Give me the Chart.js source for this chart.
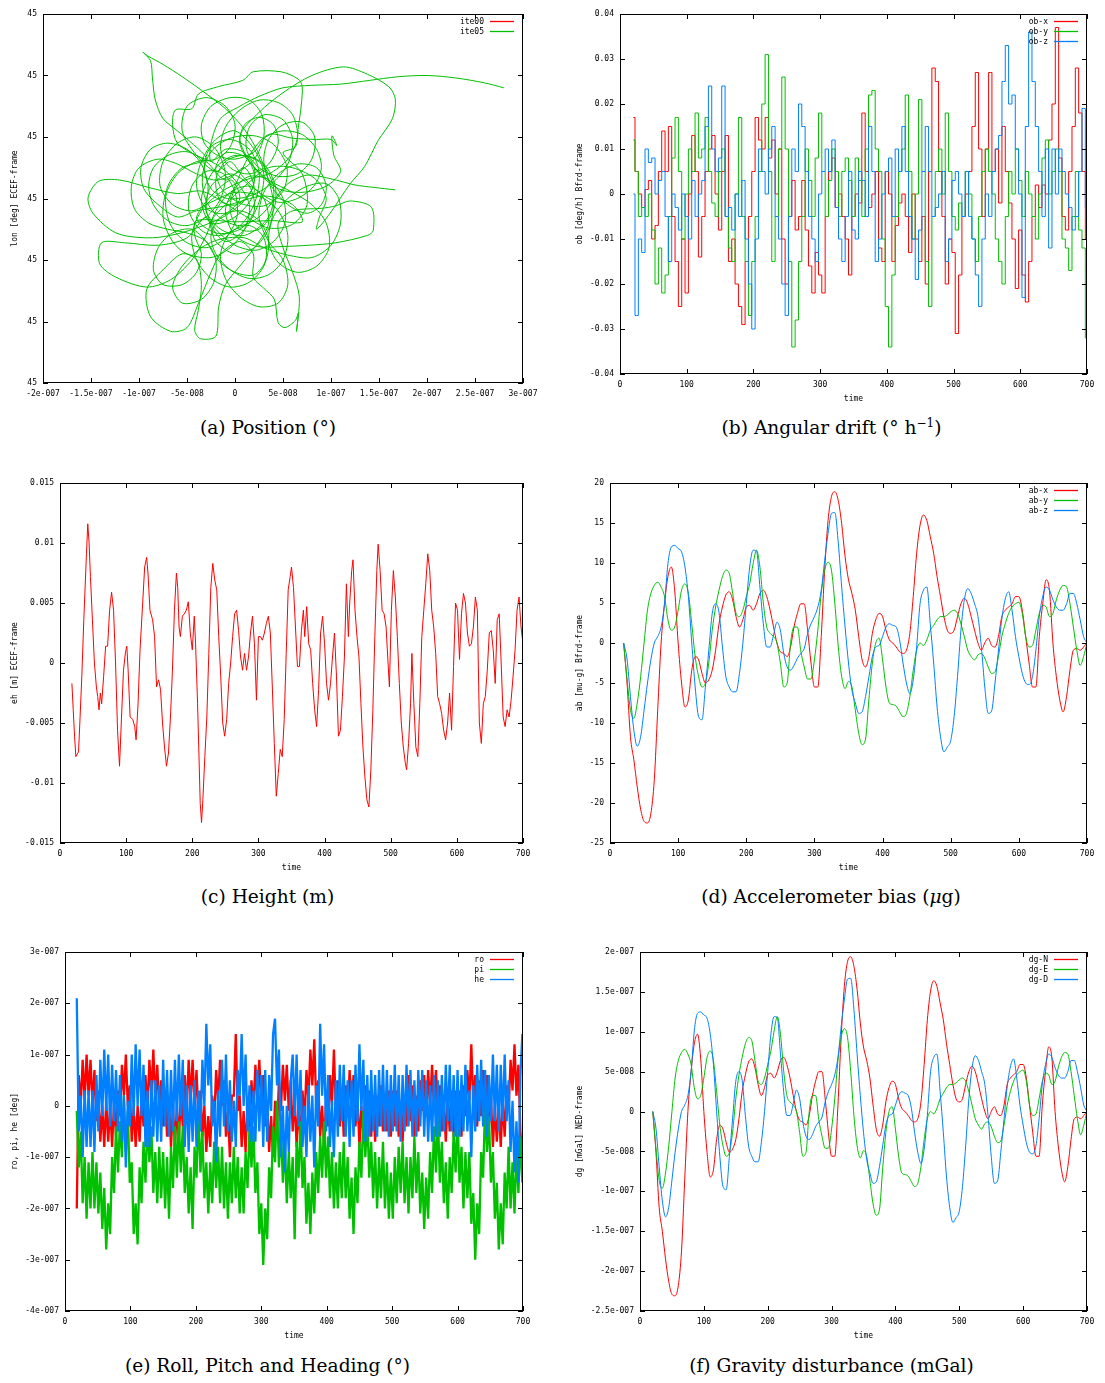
<!DOCTYPE html>
<html><head><meta charset="utf-8">
<script src="https://cdn.jsdelivr.net/npm/chart.js@4"></script>
<style>
body{margin:0;background:#fff;width:1105px;height:1383px;position:relative;overflow:hidden}
canvas{position:absolute}
.cap{position:absolute;text-align:center;font-family:'DejaVu Serif',serif;font-size:18.6px;line-height:24px;color:#000;white-space:nowrap}
.cap sup{font-size:12px;line-height:0;vertical-align:0.55em}
</style></head><body>
<canvas id="ca" width="533" height="404" style="left:5px;top:4px"></canvas>
<canvas id="cb" width="532" height="405" style="left:570px;top:4px"></canvas>
<canvas id="cc" width="533" height="405" style="left:5px;top:473px"></canvas>
<canvas id="cd" width="532" height="405" style="left:570px;top:473px"></canvas>
<canvas id="ce" width="533" height="404" style="left:5px;top:942px"></canvas>
<canvas id="cf" width="532" height="404" style="left:570px;top:942px"></canvas>
<div class="cap" style="left:0;width:536px;top:416px">(a) Position (°)</div>
<div class="cap" style="left:570px;width:523px;top:416px">(b) Angular drift (° h<sup>−1</sup>)</div>
<div class="cap" style="left:0;width:535px;top:885px">(c) Height (m)</div>
<div class="cap" style="left:570px;width:522px;top:885px">(d) Accelerometer bias (<i>μ</i>g)</div>
<div class="cap" style="left:0;width:535px;top:1354px">(e) Roll, Pitch and Heading (°)</div>
<div class="cap" style="left:570px;width:523px;top:1354px">(f) Gravity disturbance (mGal)</div>
<script>
// ---------- tick labels ----------
const xLabelsA = ['-2e-007','-1.5e-007','-1e-007','-5e-008','0','5e-008','1e-007','1.5e-007','2e-007','2.5e-007','3e-007'];
const yLabelsA = ['45','45','45','45','45','45','45'];
const timeLabels = ['0','100','200','300','400','500','600','700'];
const yLabelsB = ['-0.04','-0.03','-0.02','-0.01','0','0.01','0.02','0.03','0.04'];
const yLabelsC = ['-0.015','-0.01','-0.005','0','0.005','0.01','0.015'];
const yLabelsD = ['-25','-20','-15','-10','-5','0','5','10','15','20'];
const yLabelsE = ['-4e-007','-3e-007','-2e-007','-1e-007','0','1e-007','2e-007','3e-007'];
const yLabelsF = ['-2.5e-007','-2e-007','-1.5e-007','-1e-007','-5e-008','0','5e-008','1e-007','1.5e-007','2e-007'];

// ---------- (a) position trajectory [lon offset 1e-8, lat offset 1e-8] ----------
const ite00 = [];
const ite05 = [
[16.7,0.7],[14.5,0.9],[12.5,1.1],[10,1.6],[7.5,1.9],[5.5,1.2],[4,-0.2],[2.5,-1.5],[0.5,-2.2],[-1.5,-1.6],
[-3,-0.2],[-3.4,1.8],[-2.5,3.8],[-0.5,4.9],[2,5.1],[4,4.4],[5.4,2.6],[5,0.6],[3,-0.6],[0.6,-0.4],
[-1.4,0.8],[-2,2.5],[-1,3.7],[1,3.4],[2,2],[1.5,0.3],[-1,-1.4],[-4,-2.4],[-6.7,-3.0],[-9.2,-3.2],
[-12.4,-2.8],[-14.8,-1.2],[-15.3,0.1],[-14.2,1.4],[-12,1.5],[-9,0.9],[-6,0.4],[-3.5,0.6],[-1,-0.4],[1,-1.4],
[3.5,-2.4],[6,-2.1],[7.5,-0.5],[7,2],[5,3.7],[6.3,4.2],[6.6,5.8],[6.9,7.6],[7,9.1],[6.6,9.7],
[4.8,10.3],[1.9,10.3],[0.8,9.6],[-1.7,9.1],[-3.8,8.5],[-4.5,7.3],[-6.2,7.2],[-6.5,6],[-6,4.5],[-4,3.5],
[-2,2.8],[0,1.5],[1.5,-0.5],[1,-2.5],[-0.5,-4],[-2.5,-4.8],[-5,-4.5],[-6.5,-3.5],[-7.5,-1.5],[-7,1],
[-5.5,2.5],[-3,3.2],[-4.5,4.5],[-6,5.5],[-7.5,6.5],[-8.3,8],[-8.6,9.8],[-8.8,11.2],[-9.6,11.9],[-9.1,11.6],
[-7.5,10.9],[-5.5,9.9],[-3.5,8.8],[-1,7.3],[1,5.6],[2.5,3.6],[3.5,1.5],[4,-0.5],[3.5,-2.5],[2,-4],
[0,-4.5],[-2,-3.5],[-3,-1.5],[-5,-3.2],[-8,-3.8],[-11.5,-3.6],[-13.9,-3.6],[-14.1,-5.3],[-12.4,-6.4],[-9.2,-7.2],
[-6.7,-6.6],[-4.5,-5],[-3,-3],[-2,-1],[-0.5,0.5],[1.5,1],[3,0],[3.5,-2],[2.5,-3.5],[0.5,-5.5],
[-1,-7],[-1.7,-8.8],[-2,-11.2],[-3.6,-11.4],[-4.2,-10.7],[-3.8,-9],[-3.5,-7],[-4,-5],[-5.5,-4.5],[-7.5,-5.8],
[-9.2,-7.4],[-8.8,-9.6],[-6.7,-10.8],[-5,-10.5],[-3.8,-8.5],[-2.5,-6],[-1.5,-4.5],[0.5,-3.5],[1.9,-4.5],[1.9,-6.4],
[3,-7.3],[4.1,-8.2],[4.5,-10.1],[5.2,-10.5],[6.3,-9.9],[6.6,-9.3],[6.4,-10.8],[6.7,-8],[6,-6],[5,-4],
[4.5,-2],[6,-1],[9,-0.8],[10.5,-0.6],[12,-0.2],[14.2,-0.7],[14.4,-2.6],[13.8,-3.0],[10.5,-3.6],[7.7,-3.8],
[5,-3.9],[2.3,-3.9],[0,-3],[-1,-1],[0,1],[1.5,3.5],[3.5,5.2],[6,4.9],[8.5,4.8],[10,4.8],
[10.6,4.3],[10.1,5.1],[10.3,3.5],[11,2.2],[9.5,1],[7,0.5],[4.5,0.8],[2,2.5],[0.5,5],[2.5,7],
[5,8.6],[8,10],[11.3,10.7],[13.8,10.1],[16,9.1],[16.7,8.1],[16.4,6.5],[14.9,4.7],[13.5,2.6],[12,1.2],
[9.9,-1.2],[8.5,-2.5],[8.8,-1.5],[9.5,0],[8.5,1.5],[6,2.5],[3.5,2.5],[1,1],[-1,-0.5],[-2.5,-2],
[-1,-3.5],[1,-2.5],[2.5,-0.3],[3,2],[2,4],[0,5.5],[-2,4.8],[-3.5,3],[-4,1],[-3,-0.8],
[-1,-1.2],[0.5,0],[-0.5,1.5],[-4,-1.5],[-2,-2.8],[0.5,-2.5],[2,-1],[1.5,1],[-0.5,2],[-2.5,1],
[-3,-1],[-1.5,-2.5],[1,-3],[3.5,-1.5],[4,1],[2.5,3],[0,3.5],[-2,2.5],[-3.5,0],[-2.5,-2],
[0,-1.5],[2,0.5],[1,2.5],[-1,1.5],
[-3,3],[-5,3.8],[-7,3.5],[-8.5,2.5],[-9,1],[-8.5,-0.5],[-7,-1.8],[-5,-2.2],[-3,-1.5],[-1.5,0],
[-1,2],[-2,4],[-4,5],[-6,4.5],[-7.5,3],[-7.8,1],[-6.5,-0.5],[-4.5,-1],[-2.5,-0.3],[0,0.5],
[2.5,0.2],[4.5,-1],[5.5,-3],[5,-5],[3.5,-6.2],[1.5,-6.5],[-0.5,-5.8],[-2,-4.5],[-2.5,-3],[-1.5,-1.5],
[0.5,-1],[2.5,-1.8],[3.5,-3.5],[3,-5.5],[1.5,-6.8],[-0.5,-7.2],[-2.5,-6.5],[-4,-5],[-4.5,-3],[-3.5,-1],
[-1.5,0.5],[1,1.5],[3.5,2],[5.5,3.2],[6.5,5],[6,6.8],[4.5,7.8],[2.5,8],[0.5,7.2],[-1,5.8],
[-1.5,4],[-0.5,2.5],[1.5,2],[3.5,2.8],[4.5,4.5],[4,6],[2.5,6.6],[1,6],[0.5,4.5],[1.5,3],
[3.5,1.5],[6,0.5],[8,-0.5],[9.5,-2],[9.8,-4],[8.5,-5.5],[6.5,-6],[4.5,-5.2],[3.5,-3.5],[4,-1.5],
[5.5,0],[7.5,1],[9.5,1.2],[10.8,0],[11,-2],[10,-3.8],[8,-4.8],[5.5,-4.6],[3,-4],[1,-3.2],
[-1.5,-3.3],[-3.5,-4],[-5.5,-5.5],[-6.5,-7.2],[-5.5,-8.5],[-3.5,-8.2],[-2.2,-6.8],[-2,-5],[-3,-3.5],[-5,-2.8],
[-7,-2.5],[-9,-2],[-10.5,-0.8],[-10.8,1],[-10,2.5],[-8,3.2],[-6,2.8],[-4,2],[-2,1.5],[0,2],
[2,3.2],[3,5],[2.8,6.8],[1.5,8],[-0.5,8.2],[-2.5,7.5],[-3.5,6],[-3.2,4.5],[-1.8,3.5],[0,3.2],
[2,3.8],[3.2,5],[5,5.5],[7,5.2],[8.5,4],[9,2.5],[8.2,1],[6.5,0],[4.5,-0.3],[2.5,0.5],
[0.8,1.8],[-0.5,3],[-2,2.2],
[-4,3.5],[-5.5,5.5],[-5,7.5],[-3,8.2],[-1,7.5],[0,6],[-0.5,4.2],[-2,3.2],[-4,3],[-6,2],
[-7.2,0.2],[-6.8,-2],[-5.2,-3.5],[-3,-4],[-1,-3.2],[0.2,-1.5],[0,0.5],[-1.2,2],[-3,2.2],[-4.5,1],
[-4.8,-1],[-3.5,-2.6],[-1.5,-3],[0.8,-2],[2.2,0],[2.5,2.2],[1.5,4],[-0.5,4.8],[-2.5,4.2],[-3.2,2.5],
[-2.5,0.8],[-0.8,0],[1.5,0.2],[3.8,1.2],[5.5,2.8],[6,4.8],[5,6.4],[3,6.8],[1.5,5.8],[1.2,4],
[2.5,2.5],[4.5,1.8],[6.5,2],[8,3.2],[8.3,5],[7,6.2],[5,6],[3.5,4.8],[3,3],[3.8,1],
[5.5,-0.5],[7.5,-1.2],[9,-0.5],[9.5,1],[8.5,2.5],[6.5,2.8],[4.5,2],[3,0.5],[2.5,-1.5],[3.5,-3.5],
[5,-5],[5.5,-7],[4.5,-8.5],[2.5,-8.8],[0.5,-8],[-1,-6.5],[-1.5,-4.5],[-0.5,-2.8],[1.5,-2.2],[3,-3.2],
[3.2,-5],[2,-6.2],[0,-6],[-1.8,-5],[-3,-3.5],[-4.5,-2.5],[-6.5,-2.8],[-8,-4],[-8.5,-5.8],[-7.5,-7],
[-5.5,-7],[-4,-6],[-3.5,-4.5],[-4.2,-3],[-4,-1.8],[0,-1.9],[4,-1.8],[7,-1.9],[6,-0.5],[3,0.2],
[-1,-0.6],[-4,-1],[-6,-1.5],[-8,-0.5],[-9.5,0.8],[-9.8,2.5],[-8.8,4],[-7,4.5],[-5,4],[-3.5,2.8],
[-2.8,1],[-3,-1],[-2,-2.5],[0,-3.8],[2.2,-4.2],[4,-3.5],[5.2,-2],[5,0],[3.5,1.5],[1.5,1.8],
[0,0.8],[-0.5,-1],[0.5,-2.5],[2.5,-2.5],[4,-1],[4.2,1],[3,2.8],[1,3.5],[-1,3],[-2,1.5],
[-1.5,-0.2],[0.2,-0.5],[1.8,0.8],[2,2.5],[0.8,3.8],[-1,4],[-2.5,3],
[-2.5,4.5],[-1.5,6.5],[0.5,7.5],[2.5,8.3],[5,9],
[8,9.2],[11,9.3],[14,9.6],[17,9.9],[20,10],[23,9.8],[26,9.4],[28,9.0]
];

// ---------- (b) angular drift, 1e-3 deg/h, t = 20..700 step 5 ----------
const tB0 = 20, tBstep = 5;
const obX = [17,5,0,-3,1,3,-10,-7,5,14, 5,15,-5,-15,-25,-10,-22,0,13,5, -14,-5,5,10,13,0,-8,5,13,-15,
 -10,-20,-25,-29,-15,-5,5,17,12,10, 17,8,12,0,10,-10,-20,-5,3,-8, -5,3,-8,-16,-22,-13,-18,-22,-5,5,
 8,-3,0,-5,-10,-18,-5,0,-2,18, 5,-3,0,5,-12,-15,5,0,-15,-7, -2,0,-5,-13,0,-10,-15,-5,-20,5,
 28,25,5,-5,-20,-10,-13,-31,-18,-5, 0,5,15,27,10,-5,10,27,5,10, -2,15,5,-2,-10,-21,-8,-18,-24,-15,
 -5,2,-3,2,0,12,20,37,8,-5, -8,5,15,28,18,5,-10];
const obY = [12,5,-5,-3,-5,0,-8,-20,-12,-22, -18,-5,8,17,5,-10,0,10,5,18, 8,10,17,5,-2,-5,5,10,-5,-12,
 -15,0,17,-5,-15,-27,-15,-5,5,20, 31,5,-15,-5,10,26,10,-15,-34,-28, -15,-5,10,3,-5,8,18,5,-5,3,
 10,5,-5,5,8,3,-5,8,3,-5, 10,22,23,10,5,-10,-25,-34,-18,-5, 5,10,22,5,-10,0,21,5,-15,-25,
 -5,5,10,0,18,5,-5,-8,-2,-5, 5,0,-10,-15,-5,5,10,5,0,-10, -15,-20,-5,5,0,10,3,-5,5,0,
 -5,-10,0,8,12,0,5,10,5,-10, -12,-17,-5,5,-8,-12,-32];
const obZ = [0,-27,-10,-13,10,7,8,0,3,5, -5,-15,0,-3,-8,0,-5,-10,3,-5, 0,3,15,24,10,5,8,24,-5,-3,
 -8,0,-5,3,-10,-20,-30,-10,10,5, 0,10,15,-5,-10,-20,-27,-5,10,5, 20,15,5,-5,-10,-15,0,5,10,5,
 12,-3,-10,-15,-5,5,-8,-10,5,3, -5,15,5,-15,-10,0,5,8,-5,10, 5,15,5,-5,-10,-19,-8,5,15,5,
 -5,-3,0,5,-15,-10,3,5,0,-5, 5,-5,-10,-18,-25,-10,0,-5,5,10, 13,25,33,20,22,10,0,-23,15,36,
 25,15,5,-5,10,-12,10,0,10,5, 0,-3,-8,-5,5,19,-3];

// ---------- (c) height error [time, 1e-3 m] ----------
const ehC = [[18,-1.7],[20,-3.9],[22,-6.1],[24,-7.8],[28,-7.4],[30,-5.0],[33,-1.1],[36,3.6],[40,9.1],[42,11.6],[44,10.0],[46,7.2],[49,3.6],[52,0],[55,-2.0],[57,-2.8],[59,-3.9],[61,-2.5],[63,-3.4],[66,-1.1],[69,1.4],[72,1.4],[75,4.4],[78,5.9],[81,4.4],[84,0],[87,-5.6],[90,-8.6],[93,-4.5],[96,-0.6],[99,0.9],[101,1.4],[103,-0.6],[106,-4.5],[110,-4.7],[113,-5.3],[115,-6.4],[118,-3.4],[121,1.1],[125,5.0],[128,8.0],[131,8.8],[133,7.5],[136,4.4],[140,3.6],[143,2.2],[146,-2.0],[149,-1.4],[152,-2.2],[155,-5.0],[158,-7.0],[161,-8.6],[164,-7.5],[167,-4.5],[170,-0.6],[173,4.4],[176,7.5],[178,6.3],[180,3.0],[182,2.2],[185,3.9],[188,4.1],[191,4.4],[194,5.1],[197,2.5],[200,1.1],[203,3.9],[205,1.6],[208,-3.4],[210,-7.5],[212,-11.7],[214,-13.3],[216,-11.4],[219,-7.8],[222,-4.5],[225,0.8],[228,6.3],[231,8.3],[234,6.9],[237,6.1],[240,2.2],[243,-1.1],[246,-5.0],[249,-6.1],[252,-4.7],[255,-1.7],[258,0],[261,2.2],[264,4.1],[267,4.4],[270,2.7],[273,0.5],[276,-0.6],[279,0.8],[282,-0.6],[285,0.5],[288,2.5],[291,3.9],[294,1.6],[297,-3.1],[300,2.2],[303,2.2],[306,1.9],[309,2.5],[312,3.3],[315,3.9],[318,2.5],[321,-2.0],[324,-6.7],[327,-11.1],[330,-9.2],[333,-7.2],[336,-7.8],[339,-4.7],[342,0.8],[345,6.1],[348,7.2],[350,8.0],[353,6.3],[356,3.0],[359,-0.3],[362,-0.3],[365,2.7],[368,4.4],[370,2.2],[373,4.7],[376,1.6],[379,1.1],[382,-1.7],[385,-3.9],[388,-5.3],[391,-2.2],[394,2.5],[397,3.9],[400,1.6],[403,-1.7],[406,-3.1],[409,-1.7],[412,0.5],[415,2.5],[418,-1.1],[421,-6.1],[424,-5.6],[427,-2.8],[430,0.5],[433,6.6],[436,2.2],[438,5.0],[441,7.7],[443,8.6],[446,4.4],[449,2.2],[452,0.5],[455,-3.4],[458,-7.0],[461,-9.5],[464,-11.4],[467,-12.0],[470,-8.9],[473,-3.9],[476,2.2],[479,7.7],[481,9.9],[484,7.7],[487,4.4],[490,4.1],[493,3.0],[496,0],[498,-2.0],[501,4.4],[504,7.7],[507,5.5],[510,2.2],[513,-1.7],[516,-5.0],[519,-7.0],[522,-8.3],[524,-8.9],[527,-6.7],[530,-3.4],[532,0.8],[535,-3.4],[538,-7.0],[541,-7.8],[544,-3.4],[547,2.2],[550,4.4],[553,6.6],[556,9.1],[559,7.7],[562,4.4],[565,3.0],[568,0.8],[571,-2.8],[574,-3.4],[577,-4.2],[580,-5.6],[583,-6.4],[586,-5.0],[589,-2.5],[592,-5.6],[595,-0.3],[598,5.0],[601,4.4],[604,0.3],[607,4.1],[610,5.8],[613,5.0],[616,2.5],[619,1.4],[622,1.6],[625,3.0],[628,5.5],[631,4.4],[634,-5.0],[637,-6.7],[640,-3.4],[643,-2.8],[646,-0.6],[649,2.5],[652,2.7],[655,1.1],[658,-1.7],[661,3.6],[664,4.1],[667,0],[670,-4.5],[673,-5.3],[676,-3.9],[679,-4.5],[682,-3.1],[685,-1.1],[688,1.1],[691,4.4],[694,5.5],[697,3.0],[700,1.6]];

// ---------- (d) accelerometer bias, mu-g, t = 20..700 step 5 ----------
const tD0 = 20, tDstep = 5;
const abX = [0,-5,-11.7,-14.6,-18,-20.8,-22.3,-22.5,-21.3,-17.1, -8.4,0,4.9,8.3,9.5,6.5,0,-5,-8,-7.1,
 -3.4,-1.7,-2.1,-3.8,-5,-4.6,-3.4,-0.9,2.4,4.5, 6,6.4,5.4,3.3,2,2.9,4.5,4.7,4.1,4.9,
 6.2,6.6,5.8,4.1,2,0,-1.1,-1.3,-1.7,-0.5, 2,3.7,4.9,4.9,1.6,-2.5,-5.5,-5.5,0.8,9.1,
 15.3,18.3,18.9,17.8,14.9,10.8,7.9,6.2,4.1,0.8, -2.1,-3,-1.7,1.2,2.9,3.7,3.3,1.6,0.4,0,
 -0.5,-1.1,-1.3,-0.9,1.2,5.8,11.2,14.7,16,15.3, 13.3,11.2,8.3,5.8,3.3,1.6,1.2,1.6,3.3,4.9,
 5.6,4.9,3.3,1.6,0,-0.9,0,0.6,-0.3,-0.5, 0.8,3.3,4.1,4.5,4.9,5.8,5.8,4.1,0.8,-2.5,
 -5.5,-5.5,0.8,4.9,7.9,6.5,0,-4.2,-7.1,-8.6, -6.7,-3.4,-0.9,-0.7,-0.9,-0.5,0];
const abY = [0,-4.5,-8.4,-9.4,-7.5,-4.2,0,4.1,6.2,7.2, 7.6,7,5.8,2.9,1.6,2,4.1,6.6,7.4,6.2,
 2.4,-1.7,-4.2,-5.5,-5,-2.5,1.6,4.5,6.6,8.3, 9.1,8.7,6.2,3.7,3.3,4.1,5.8,7.4,9.9,11.6,
 9.5,5,2,1.2,0.8,0,-2.5,-5.5,-5,0, 2,2,-1,-3,-4.5,-4.5,-2.1,1.6,6.2,9.1,
 10.1,9.1,4.9,-0.5,-4.2,-5.7,-4.8,-5.5,-8.4,-11.3, -12.7,-12,-7,-2.5,0,0.6,-2.1,-5.5,-7.5,-7.7,
 -7.9,-8.6,-9.2,-8.8,-6.7,-3.4,-0.9,0,-0.3,0.4, 1.6,2.2,2.9,3.3,3.3,3.5,3.9,4.1,3.7,2.4,
 0.8,-0.9,-1.7,-2.1,-1.5,-1.3,-1.9,-3,-3.8,-3.6, -1.7,0.8,2.4,3.7,4.5,4.9,5.1,3.7,0.8,-0.5,
 -0.3,1.6,3.7,4.7,4.5,3.3,3.7,5.4,6.6,7.2, 7,4.9,2,-0.9,-2.8,-1.7,0];
const abZ = [0,-2,-6.7,-10.9,-12.9,-11.7,-8.4,-5,-2.1,0, 0.8,2,4.9,9.9,12,12.2,11.8,11.4,9.5,5.8,
 0,-5.5,-9.2,-9.6,-5.5,-0.9,3.7,4.9,3.8,-0.5, -4.2,-5.5,-6.1,-6.1,-3.8,0,4.9,9.5,11.6,11.5,
 7,2.4,-0.5,-0.5,1,2.6,1.6,-1.3,-3,-3.4, -2.8,-1.9,-1.3,-0.7,1.2,2.4,3.3,4.5,6.6,10.3,
 13.7,16.2,16.3,12.5,7,2,-2.5,-5.9,-7.5,-8.8, -8.6,-6.7,-4.2,-1.7,-0.5,-0.3,0.8,2,2.4,2.2,
 2,0.4,-2.5,-5,-6.3,-4.6,-0.5,4.9,6.6,7, 2.4,-2.5,-8,-11.7,-13.6,-13,-12.2,-9.2,-4.2,1.6,
 5.4,6.8,6.2,4.9,3.3,-0.5,-5.5,-8.8,-8.5,-5, -1,3,5.5,6.4,4.1,0.8,-1.7,-3.8,-5,-5.2,
 -4.2,-0.9,3.3,5.8,7,6.6,5.4,4.5,4.1,4.1, 4.9,6.2,6.2,4.9,2.9,0.8,0];

// ---------- (e) roll, pitch, heading, 1e-8 deg, t = 18..699 step 3 ----------
const tE0 = 18, tEstep = 3;
const ro = [-20,6,0,9,1,10,2,9,0,7, -3,3,-7,0,-8,1,-7,0,-8,1, -6,3,-2,8,2,10,0,4,-7,0, -8,0,-7,2,-4,6,-1,9,2,11,
 1,8,-1,5,-4,3,-6,1,-8,0, -8,0,-7,2,-4,6,-1,9,1,9, 0,7,-3,3,-6,0,-9,-2,-8,2, -3,7,1,9,0,5,-6,-1,-10,2,
 2,14,-1,2,-8,-1,-9,1,-5,5, -1,8,1,9,0,6,-4,1,-9,-2, -10,1,-5,5,-1,8,1,8,-1,5, -5,2,-8,0,-7,3,-3,7,1,11,
 4,13,0,5,-6,0,-8,1,-4,6, 0,11,-1,5,-4,3,-6,4,-2,7, -1,6,-4,2,-8,0,-6,4,-5,3, -6,2,-7,2,-4,4,-5,2,-5,3,
 -6,3,-4,3,-6,1,-7,2,-4,6, -3,4,-6,2,-5,5,-1,6,-2,7, 0,8,-1,7,-2,4,-5,1,-7,2, -5,3,-6,3,-4,3,-6,4,-2,7,
 1,12,0,6,-4,5,-2,7,-1,6, -4,2,-8,0,-7,0,-8,1,-6,4, -1,9,3,12,2,8,-5,-10];
const pi = [-1,-12,-5,-19,-10,-22,-11,-20,-9,-20, -11,-21,-13,-24,-16,-28,-19,-25,-10,-17, -4,-13,-3,-10,2,-9,-1,-15,-11,-25,
 -19,-27,-12,-19,-7,-15,-3,-11,-4,-17, -9,-19,-8,-18,-9,-20,-10,-22,-8,-16, -4,-14,-3,-13,-4,-17,-10,-21,-12,-24,
 -8,-14,-1,-13,-5,-18,-11,-21,-11,-19, -7,-16,-8,-19,-8,-20,-11,-22,-11,-19, -8,-18,-10,-21,-12,-21,-9,-16,-4,-12,
 -4,-17,-11,-25,-19,-31,-20,-26,-12,-18, -4,-11,1,-12,-4,-15,-7,-19,-9,-18, -10,-26,-7,-14,-3,-16,-10,-23,-15,-25,
 -13,-21,-9,-17,-6,-14,-3,-14,-6,-18, -9,-20,-11,-20,-9,-18,-7,-18,-10,-22, -14,-25,-12,-19,-7,-14,-1,-10,-2,-14,
 -7,-18,-9,-20,-10,-18,-7,-20,-11,-22, -13,-22,-10,-19,-8,-17,-7,-19,-10,-21, -10,-18,-6,-17,-9,-21,-13,-24,-14,-22,
 -9,-17,-4,-13,-2,-15,-7,-19,-11,-22, -10,-17,-5,-13,-2,-15,-8,-20,-9,-18, -9,-23,-17,-30,-19,-25,-9,-14,0,-9,
 -2,-15,-9,-22,-15,-28,-19,-27,-13,-20, -8,-20,-11,-21,-9,-17,-6,-15];
const he = [21,-5,2,-10,3,-8,3,-8,3,-9, 6,-5,9,-2,11,-1,10,-4,8,-3, 7,-5,6,-7,2,-12,1,-4,10,-2, 12,0,11,-2,8,-8,3,-8,5,-6,
 5,-7,4,-7,9,-4,7,-6,7,-5, 9,-3,10,-2,9,-8,4,-9,4,-7, 5,-8,3,-5,9,0,16,4,12,-4, 1,-11,3,-6,9,-4,10,-5,5,-7,
 1,-8,7,2,14,0,10,-5,4,-7, 3,-7,7,-5,6,-8,7,-7,6,-1, 14,17,4,11,-10,0,-13,0,-9,5, 10,-2,10,-4,7,-8,0,-10,4,-7,
 2,-12,4,-4,16,2,12,-5,6,-8, 1,-10,5,-6,8,-3,8,-6,5,-8, 5,-6,8,-3,12,-1,9,-7,6,-6, 7,-5,6,-6,7,-4,8,-5,7,-6,
 6,-5,8,-5,6,-7,6,-5,8,-4, 7,-6,5,-6,7,-4,7,-6,5,-7, 4,-7,6,-6,5,-6,6,-5,8,-3, 8,-5,6,-6,7,-6,6,-5,8,-5,
 3,-10,4,-5,8,-3,9,-4,7,-6, 6,-3,10,-3,8,-5,8,-3,10,-3, 5,-9,1,-13,-3,-15,6,14];

// ---------- (f) gravity disturbance, 1e-8 mGal, t = 20..700 step 5 ----------
const tF0 = 20, tFstep = 5;
const dgN = [0,-5.1,-12,-15,-18.5,-21.3,-22.9,-23.1,-21.8,-17.5, -8.6,0,5,8.5,9.7,6.7,0,-5.1,-8.2,-7.3,
 -3.5,-1.7,-2.2,-3.9,-5.1,-4.7,-3.5,-0.9,2.5,4.6, 6.2,6.6,5.5,3.4,2,3,4.6,4.8,4.2,5,
 6.4,6.8,5.9,4.2,2,0,-1.1,-1.3,-1.7,-0.5, 2,3.8,5,5,1.6,-2.6,-5.6,-5.6,0.8,9.3,
 15.7,18.8,19.4,18.2,15.3,11.1,8.1,6.4,4.2,0.8, -2.2,-3.1,-1.7,1.2,3,3.8,3.4,1.6,0.4,0,
 -0.5,-1.1,-1.3,-0.9,1.2,5.9,11.5,15.1,16.4,15.7, 13.6,11.5,8.5,5.9,3.4,1.6,1.2,1.6,3.4,5,
 5.7,5,3.4,1.6,0,-0.9,0,0.6,-0.3,-0.5, 0.8,3.4,4.2,4.6,5,5.9,5.9,4.2,0.8,-2.6,
 -5.6,-5.6,0.8,5,8.1,6.7,0,-4.3,-7.3,-8.8, -6.9,-3.5,-0.9,-0.7,-0.9,-0.5,0];
const dgE = [0,-4.6,-8.6,-9.6,-7.7,-4.3,0,4.2,6.4,7.4, 7.8,7.2,5.9,3,1.6,2,4.2,6.8,7.6,6.4,
 2.5,-1.7,-4.3,-5.6,-5.1,-2.6,1.6,4.6,6.8,8.5, 9.3,8.9,6.4,3.8,3.4,4.2,5.9,7.6,10.1,11.9,
 9.7,5.1,2,1.2,0.8,0,-2.6,-5.6,-5.1,0, 2,2,-1,-3.1,-4.6,-4.6,-2.2,1.6,6.4,9.3,
 10.4,9.3,5,-0.5,-4.3,-5.8,-4.9,-5.6,-8.6,-11.6, -13,-12.3,-7.2,-2.6,0,0.6,-2.2,-5.6,-7.7,-7.9,
 -8.1,-8.8,-9.4,-9,-6.9,-3.5,-0.9,0,-0.3,0.4, 1.6,2.3,3,3.4,3.4,3.6,4,4.2,3.8,2.5,
 0.8,-0.9,-1.7,-2.2,-1.5,-1.3,-1.9,-3.1,-3.9,-3.7, -1.7,0.8,2.5,3.8,4.6,5,5.2,3.8,0.8,-0.5,
 -0.3,1.6,3.8,4.8,4.6,3.4,3.8,5.5,6.8,7.4, 7.2,5,2,-0.9,-2.9,-1.7,0];
const dgD = [0,-2.1,-6.9,-11.2,-13.2,-12,-8.6,-5.1,-2.2,0, 0.8,2,5,10.1,12.3,12.5,12.1,11.7,9.7,5.9,
 0,-5.6,-9.4,-9.8,-5.6,-0.9,3.8,5,3.9,-0.5, -4.3,-5.6,-6.3,-6.3,-3.9,0,5,9.7,11.9,11.8,
 7.2,2.5,-0.5,-0.5,1,2.7,1.6,-1.3,-3.1,-3.5, -2.9,-1.9,-1.3,-0.7,1.2,2.5,3.4,4.6,6.8,10.6,
 14,16.6,16.7,12.8,7.2,2,-2.6,-6,-7.7,-9, -8.8,-6.9,-4.3,-1.7,-0.5,-0.3,0.8,2,2.5,2.3,
 2,0.4,-2.6,-5.1,-6.5,-4.7,-0.5,5,6.8,7.2, 2.5,-2.6,-8.2,-12,-13.9,-13.3,-12.5,-9.4,-4.3,1.6,
 5.5,7,6.4,5,3.4,-0.5,-5.6,-9,-8.7,-5.1, -1,3.1,5.6,6.6,4.2,0.8,-1.7,-3.9,-5.1,-5.3,
 -4.3,-0.9,3.4,5.9,7.2,6.8,5.5,4.6,4.2,4.2, 5,6.4,6.4,5,3,0.8,0];

// ---------- helpers ----------
const RED = '#ff0000', GREEN = '#00c000', BLUE = '#0080ff';
const MONO = "'DejaVu Sans Mono', monospace";
const FONT = {family: MONO, size: 8};
const onGrid = (t0, dt, vals) => vals.map((v, i) => ({x: t0 + i * dt, y: v}));
const fromPairs = arr => arr.map(p => ({x: p[0], y: p[1]}));

const gnuFrame = {
  id: 'gnuFrame',
  afterDatasetsDraw(chart, args, opts) {
    const {ctx, chartArea: a, scales} = chart;
    const L = Math.round(a.left), T = Math.round(a.top), R = Math.round(a.right), B = Math.round(a.bottom);
    ctx.save();
    ctx.strokeStyle = '#000'; ctx.lineWidth = 1;
    ctx.strokeRect(L + 0.5, T + 0.5, R - L - 1, B - T - 1);
    ctx.beginPath();
    const tl = 5;
    scales.x.ticks.forEach(t => {
      const p = Math.round(scales.x.getPixelForValue(t.value)) + 0.5;
      ctx.moveTo(p, B); ctx.lineTo(p, B - tl);
      ctx.moveTo(p, T); ctx.lineTo(p, T + tl);
    });
    scales.y.ticks.forEach(t => {
      const p = Math.round(scales.y.getPixelForValue(t.value)) + 0.5;
      ctx.moveTo(L, p); ctx.lineTo(L + tl, p);
      ctx.moveTo(R, p); ctx.lineTo(R - tl, p);
    });
    ctx.stroke();
    // gnuplot-style key (only for labelled series)
    ctx.font = "8px " + MONO;
    ctx.textAlign = 'right'; ctx.textBaseline = 'middle';
    (opts.keys || []).forEach((k, i) => {
      const y = T + 7 + 10 * i;
      ctx.fillStyle = '#000';
      ctx.fillText(k.label, R - 39, y + 0.5);
      ctx.beginPath();
      ctx.lineWidth = 1.3;
      ctx.strokeStyle = k.color;
      ctx.moveTo(R - 33, y + 0.5); ctx.lineTo(R - 9, y + 0.5);
      ctx.stroke();
    });
    ctx.restore();
  }
};

function axis(min, max, step, labels, title, fitFn, titlePad) {
  return {
    type: 'linear', min, max,
    ticks: {stepSize: step, autoSkip: false, maxRotation: 0, padding: 6, color: '#000', font: FONT,
            callback: v => labels[Math.round((v - min) / step)]},
    grid: {display: false, drawTicks: false}, border: {display: false},
    title: {display: !!title, text: title, color: '#000', font: FONT, padding: titlePad},
    afterFit: fitFn
  };
}

function make(id, type, datasets, xs, ys, yw, xh, style) {
  const n = datasets.length;
  const keys = datasets.filter(d => d.label).map(d => ({label: d.label, color: d.borderColor}));
  datasets.forEach((d, i) => {
    d.borderWidth = style.width || 1; d.pointRadius = 0; d.fill = false; d.order = n - i;
    d.backgroundColor = d.borderColor;
    if (style.smooth) d.cubicInterpolationMode = 'monotone'; else d.tension = style.tension || 0;
    if (style.stepped) d.stepped = style.stepped;
    if (type === 'scatter') d.showLine = true;
  });
  new Chart(document.getElementById(id), {
    type,
    data: {datasets},
    options: {
      responsive: false, animation: false, devicePixelRatio: 1,
      layout: {padding: {left: 0, top: 10, right: 15, bottom: 0}},
      plugins: {legend: {display: false}, tooltip: {enabled: false}, gnuFrame: {keys}},
      scales: {
        x: axis(xs[0], xs[1], xs[2], xs[3], xs[4], s => { s.height = xh; s.paddingLeft = 0; s.paddingRight = 0; }, {top: 0, bottom: 5}),
        y: axis(ys[0], ys[1], ys[2], ys[3], ys[4], s => { s.width = yw; s.paddingTop = 0; s.paddingBottom = 0; }, {top: 5, bottom: 0})
      }
    },
    plugins: [gnuFrame]
  });
}

// (a)
make('ca', 'scatter', [
  {label: 'ite00', data: fromPairs(ite00), borderColor: RED},
  {label: 'ite05', data: fromPairs(ite05), borderColor: GREEN}
], [-20, 30, 5, xLabelsA, ''], [-15, 15, 5, yLabelsA, 'lon [deg] ECEF-frame'], 38, 25, {tension: 0.3});

// (b)
make('cb', 'line', [
  {label: 'ob-x', data: onGrid(tB0, tBstep, obX), borderColor: RED},
  {label: 'ob-y', data: onGrid(tB0, tBstep, obY), borderColor: GREEN},
  {label: 'ob-z', data: onGrid(tB0, tBstep, obZ), borderColor: BLUE}
], [0, 700, 100, timeLabels, 'time'], [-40, 40, 10, yLabelsB, 'ob [deg/h] Bfrd-frame'], 50, 35, {stepped: 'middle'});

// (c)
make('cc', 'line', [
  {label: '', data: fromPairs(ehC), borderColor: RED}
], [0, 700, 100, timeLabels, 'time'], [-15, 15, 5, yLabelsC, 'eh [m] ECEF-frame'], 55, 35, {});

// (d)
make('cd', 'line', [
  {label: 'ab-x', data: onGrid(tD0, tDstep, abX), borderColor: RED},
  {label: 'ab-y', data: onGrid(tD0, tDstep, abY), borderColor: GREEN},
  {label: 'ab-z', data: onGrid(tD0, tDstep, abZ), borderColor: BLUE}
], [0, 700, 100, timeLabels, 'time'], [-25, 20, 5, yLabelsD, 'ab [mu-g] Bfrd-frame'], 40, 35, {smooth: true});

// (e)
make('ce', 'line', [
  {label: 'ro', data: onGrid(tE0, tEstep, ro), borderColor: RED},
  {label: 'pi', data: onGrid(tE0, tEstep, pi), borderColor: GREEN},
  {label: 'he', data: onGrid(tE0, tEstep, he), borderColor: BLUE}
], [0, 700, 100, timeLabels, 'time'], [-40, 30, 10, yLabelsE, 'ro, pi, he [deg]'], 60, 35, {width: 2.3});

// (f)
make('cf', 'line', [
  {label: 'dg-N', data: onGrid(tF0, tFstep, dgN), borderColor: RED},
  {label: 'dg-E', data: onGrid(tF0, tFstep, dgE), borderColor: GREEN},
  {label: 'dg-D', data: onGrid(tF0, tFstep, dgD), borderColor: BLUE}
], [0, 700, 100, timeLabels, 'time'], [-25, 20, 5, yLabelsF, 'dg [mGal] NED-frame'], 70, 35, {smooth: true});
</script>
</body></html>
